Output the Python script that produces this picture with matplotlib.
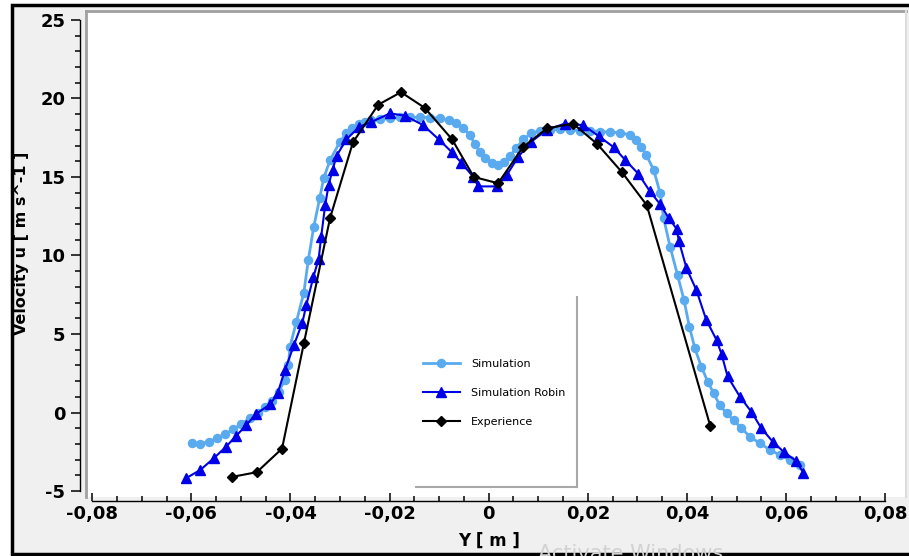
import matplotlib
matplotlib.use('Agg')
import matplotlib.pyplot as plt
from matplotlib.ticker import MultipleLocator, FuncFormatter
from matplotlib.lines import Line2D
from matplotlib.patches import Rectangle

# ---------------- data ----------------
sim_y = [-0.0599, -0.0583, -0.0565, -0.0549, -0.0532, -0.0515, -0.0499, -0.0482, -0.0465, -0.0451,
         -0.0438, -0.0424, -0.0411, -0.0404, -0.0401, -0.0388, -0.0373, -0.0364, -0.0353, -0.0341,
         -0.0333, -0.0320, -0.0300, -0.0287, -0.0275, -0.0262, -0.0250, -0.0237, -0.0219, -0.0199,
         -0.0179, -0.0159, -0.0139, -0.0118, -0.0098, -0.0081, -0.0065, -0.0051, -0.0038, -0.0028,
         -0.0018, -0.0008, 0.0006, 0.0018, 0.0031, 0.0043, 0.0056, 0.0070, 0.0086, 0.0103,
         0.0124, 0.0144, 0.0164, 0.0184, 0.0204, 0.0225, 0.0245, 0.0265, 0.0285, 0.0298,
         0.0308, 0.0318, 0.0333, 0.0346, 0.0353, 0.0366, 0.0381, 0.0394, 0.0405, 0.0416,
         0.0429, 0.0442, 0.0454, 0.0466, 0.0480, 0.0494, 0.0510, 0.0527, 0.0547, 0.0568,
         0.0588, 0.0608, 0.0628]
sim_u = [-1.94, -2.00, -1.86, -1.64, -1.37, -1.07, -0.73, -0.37, -0.01, 0.37,
         0.75, 1.32, 2.07, 3.03, 4.19, 5.78, 7.63, 9.71, 11.83, 13.64,
         14.92, 16.08, 17.25, 17.78, 18.15, 18.35, 18.50, 18.60, 18.67, 18.74,
         18.80, 18.80, 18.80, 18.78, 18.74, 18.63, 18.42, 18.10, 17.67, 17.10,
         16.60, 16.20, 15.90, 15.78, 15.97, 16.35, 16.85, 17.40, 17.78, 17.93,
         17.99, 18.04, 17.99, 17.95, 17.95, 17.89, 17.85, 17.82, 17.68, 17.36,
         16.93, 16.40, 15.45, 13.96, 12.37, 10.56, 8.76, 7.17, 5.46, 4.09,
         2.92, 1.96, 1.22, 0.48, -0.05, -0.48, -1.00, -1.54, -1.96, -2.39,
         -2.71, -3.03, -3.34]

robin_y = [-0.0611, -0.0582, -0.0555, -0.0530, -0.0510, -0.0489, -0.0470, -0.0441, -0.0426, -0.0411,
           -0.0393, -0.0376, -0.0368, -0.0354, -0.0343, -0.0338, -0.0330, -0.0323, -0.0315, -0.0307,
           -0.0287, -0.0261, -0.0237, -0.0199, -0.0169, -0.0132, -0.0101, -0.0075, -0.0055, -0.0031,
           -0.0021, 0.0016, 0.0036, 0.0060, 0.0086, 0.0117, 0.0154, 0.0191, 0.0222, 0.0252,
           0.0275, 0.0302, 0.0325, 0.0345, 0.0363, 0.0379, 0.0384, 0.0399, 0.0419, 0.0439,
           0.0460, 0.0470, 0.0482, 0.0507, 0.0530, 0.0550, 0.0573, 0.0595, 0.0621, 0.0635]
robin_u = [-4.19, -3.66, -2.92, -2.18, -1.50, -0.80, -0.10, 0.52, 1.22, 2.71,
           4.30, 5.72, 6.85, 8.60, 9.80, 11.20, 13.20, 14.50, 15.45, 16.35,
           17.40, 18.20, 18.50, 19.05, 18.90, 18.30, 17.40, 16.60, 15.90, 15.00,
           14.40, 14.40, 15.10, 16.30, 17.25, 18.00, 18.40, 18.30, 17.60, 16.90,
           16.10, 15.20, 14.10, 13.30, 12.40, 11.70, 10.90, 9.20, 7.80, 5.90,
           4.60, 3.70, 2.30, 1.00, 0.05, -1.00, -1.85, -2.50, -3.10, -3.85]

exp_y = [-0.0518, -0.0468, -0.0417, -0.0373, -0.0320, -0.0274, -0.0223, -0.0177, -0.0129, -0.0074,
         -0.0030, 0.0019, 0.0069, 0.0118, 0.0170, 0.0219, 0.0269, 0.0319, 0.0447]
exp_u = [-4.1, -3.8, -2.3, 4.4, 12.4, 17.2, 19.6, 20.4, 19.4, 17.4,
         15.0, 14.6, 16.9, 18.1, 18.4, 17.1, 15.3, 13.2, -0.85]

labels = ['Simulation', 'Simulation Robin', 'Experience']
x_label = 'Y [ m ]'
y_label = 'Velocity u [ m s^-1 ]'

# ---------------- figure ----------------
plt.rcParams['font.family'] = ['DejaVu Sans']
plt.rcParams['font.weight'] = 'bold'

W, H = 909, 556
fig = plt.figure(figsize=(W / 100, H / 100), dpi=100)
fig.patch.set_facecolor('white')


def fx(px):
    return px / W


def fy(py):
    return 1 - py / H


# outer window frame
fig.add_artist(Rectangle((fx(12), fy(554)), fx(930) - fx(12), fy(5) - fy(554),
                         transform=fig.transFigure, facecolor='#f0f0f0',
                         edgecolor='black', lw=2.5, zorder=-2))

ax = fig.add_axes([fx(87), fy(497), fx(905) - fx(87), fy(11) - fy(497)])
ax.set_facecolor('white')

ax.plot(sim_y, sim_u, color='#5aaaf0', lw=2, marker='o', ms=5.8, mec='#5aaaf0',
        mfc='#5aaaf0', label=labels[0], zorder=3)
ax.plot(robin_y, robin_u, color='#0000e6', lw=1.5, marker='^', ms=7, mec='#0000e6',
        mfc='#0000e6', label=labels[1], zorder=4)
ax.plot(exp_y, exp_u, color='black', lw=1.5, marker='D', ms=4.8, label=labels[2], zorder=5)

ax.set_xlim((87 - 488.7) / 4956, (905 - 488.7) / 4956)
ax.set_ylim(-5.38, 25.57)

for s in ['top', 'right']:
    ax.spines[s].set_visible(False)
ax.spines['left'].set_position(('outward', 5))
ax.spines['left'].set_bounds(-5, 25)
ax.spines['bottom'].set_position(('outward', 3))
ax.spines['bottom'].set_bounds(-0.08, 0.08)
ax.spines['left'].set_linewidth(1)
ax.spines['bottom'].set_linewidth(1)

ax.xaxis.set_major_locator(MultipleLocator(0.02))
ax.xaxis.set_minor_locator(MultipleLocator(0.005))
ax.yaxis.set_major_locator(MultipleLocator(5))
ax.yaxis.set_minor_locator(MultipleLocator(1))


def xfmt(v, pos):
    if abs(v) < 1e-9:
        return '0'
    s = '%.2f' % v
    return s.replace('.', ',')


def yfmt(v, pos):
    return '%d' % round(v)


ax.xaxis.set_major_formatter(FuncFormatter(xfmt))
ax.yaxis.set_major_formatter(FuncFormatter(yfmt))

ax.tick_params(axis='y', which='major', direction='out', length=6.5, width=1.1,
               labelsize=13, pad=4)
ax.tick_params(axis='y', which='minor', direction='out', length=3.6, width=1.1)
ax.tick_params(axis='x', which='major', direction='in', length=5.5, width=1.1,
               labelsize=13, pad=3)
ax.tick_params(axis='x', which='minor', direction='in', length=3.5, width=1.1)

# plot area borders
fig.add_artist(Line2D([fx(86), fx(906)], [fy(11), fy(11)], transform=fig.transFigure,
                      color='#a0a0a0', lw=2, zorder=6))
fig.add_artist(Line2D([fx(86), fx(86)], [fy(11), fy(497)], transform=fig.transFigure,
                      color='#a0a0a0', lw=2, zorder=6))
fig.add_artist(Line2D([fx(905.5), fx(905.5)], [fy(11), fy(497)], transform=fig.transFigure,
                      color='#dcdcdc', lw=1.5, zorder=6))

# axis titles
fig.text(fx(22), fy(243), y_label, rotation=90, ha='center', va='center',
         fontsize=11.5, fontweight='bold')
fig.text(fx(489), fy(541), x_label, ha='center', va='center',
         fontsize=12, fontweight='bold')

# legend
leg = ax.legend(loc='upper left', bbox_to_anchor=(fx(423), fy(359)),
                bbox_transform=fig.transFigure, frameon=False,
                prop={'size': 8, 'weight': 'normal'}, handlelength=3.3,
                handletextpad=1.0, labelspacing=1.7, borderpad=0, borderaxespad=0,
                markerscale=1.0)
fig.add_artist(Line2D([fx(577), fx(577)], [fy(297), fy(487)], transform=fig.transFigure,
                      color='#a8a8a8', lw=1.5, zorder=6))
fig.add_artist(Line2D([fx(416), fx(577)], [fy(487), fy(487)], transform=fig.transFigure,
                      color='#a8a8a8', lw=1.5, zorder=6))

# faint OS watermark visible in the screenshot
fig.text(fx(538), fy(544), 'Activate Windows', ha='left', va='top', fontsize=15,
         color='#d2d2d2', fontweight='normal', zorder=10)

fig.savefig('out.png', dpi=100, facecolor=fig.get_facecolor())
